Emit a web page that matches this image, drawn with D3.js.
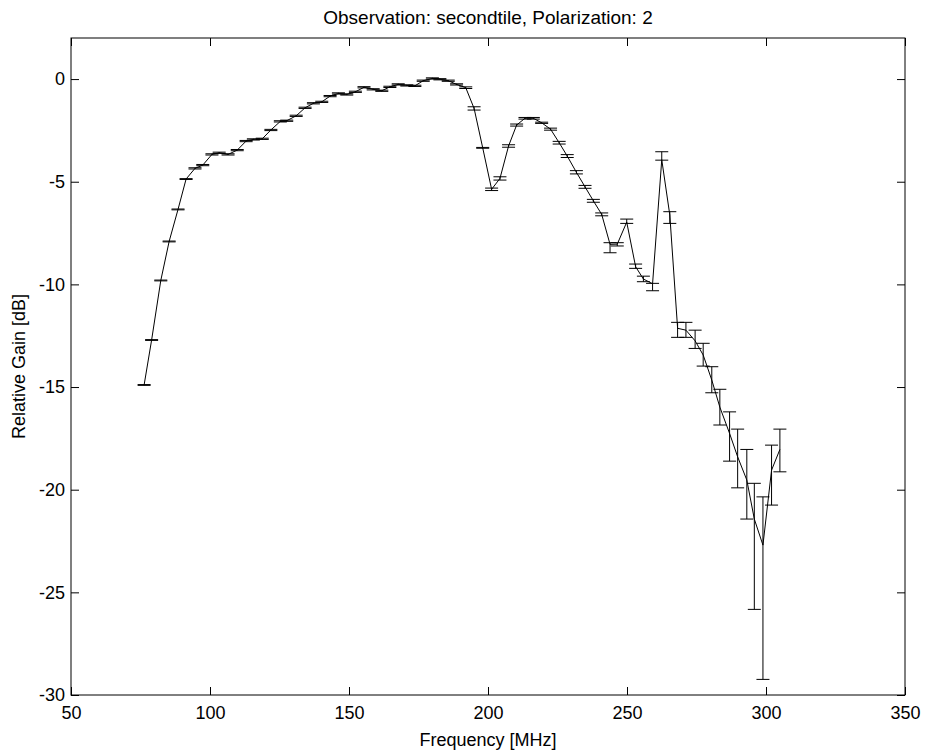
<!DOCTYPE html>
<html>
<head>
<meta charset="utf-8">
<script src="https://cdn.jsdelivr.net/npm/d3@7"></script>
<style>
    body { margin: 0; background: #fff; }
    #chart text { font-family: "Liberation Sans", Arial, Helvetica, sans-serif; fill: #000; }
</style>
</head>
<body>
<div id="chart"></div>
<script>

// frequency of each channel [MHz]
const freqs = [
    76.3, 79.0, 82.3, 85.3, 88.5, 91.4, 94.6, 97.4, 100.7, 103.3,
    106.5, 109.8, 113.0, 115.6, 118.8, 121.9, 125.3, 127.6, 131.0, 134.2,
    137.2, 140.2, 143.2, 146.2, 149.2, 152.3, 155.4, 158.7, 161.8, 164.7,
    167.7, 170.8, 173.7, 176.7, 180.0, 182.7, 185.7, 188.7, 192.0, 195.0,
    198.1, 201.3, 204.3, 207.4, 210.3, 213.3, 216.3, 219.3, 222.5, 225.6,
    228.5, 231.8, 234.9, 237.9, 240.9, 243.9, 246.5, 249.9, 253.1, 255.9,
    259.2, 262.5, 265.4, 268.2, 271.2, 274.5, 277.4, 280.5, 283.4, 286.9,
    289.8, 293.1, 295.8, 298.9, 302.0, 305.0
];

// relative gain [dB]
const gains = [
    -14.90, -12.71, -9.81, -7.91, -6.35, -4.87, -4.35, -4.19, -3.67, -3.59,
    -3.67, -3.46, -3.02, -2.94, -2.91, -2.48, -2.06, -2.03, -1.79, -1.40,
    -1.18, -1.11, -0.83, -0.70, -0.75, -0.62, -0.40, -0.50, -0.57, -0.38,
    -0.26, -0.31, -0.33, -0.08, 0.03, -0.01, -0.08, -0.26, -0.42, -1.43,
    -3.35, -5.37, -4.84, -3.26, -2.24, -1.91, -1.91, -2.13, -2.44, -3.10,
    -3.75, -4.54, -5.25, -5.93, -6.59, -8.05, -8.04, -6.97, -9.14, -9.74,
    -9.97, -3.93, -6.62, -12.14, -12.23, -12.75, -13.44, -14.66, -15.98, -17.26,
    -18.40, -19.53, -21.43, -22.70, -19.05, -18.04
];

// error below the point [dB]
const errLow = [
    0.02, 0.02, 0.02, 0.02, 0.02, 0.02, 0.03, 0.03, 0.03, 0.03,
    0.03, 0.03, 0.03, 0.03, 0.03, 0.03, 0.03, 0.03, 0.03, 0.03,
    0.03, 0.03, 0.03, 0.03, 0.03, 0.03, 0.03, 0.03, 0.03, 0.03,
    0.03, 0.03, 0.03, 0.03, 0.03, 0.03, 0.03, 0.03, 0.04, 0.08,
    0.02, 0.06, 0.08, 0.06, 0.05, 0.04, 0.04, 0.03, 0.05, 0.065,
    0.07, 0.08, 0.07, 0.07, 0.07, 0.41, 0.09, 0.06, 0.08, 0.13,
    0.34, 0.02, 0.41, 0.44, 0.35, 0.37, 0.54, 0.62, 0.87, 1.35,
    1.51, 1.90, 4.40, 6.54, 1.70, 1.09
];

// error above the point [dB]
const errHigh = [
    0.02, 0.02, 0.02, 0.02, 0.02, 0.02, 0.03, 0.03, 0.03, 0.03,
    0.03, 0.03, 0.03, 0.03, 0.03, 0.03, 0.03, 0.03, 0.03, 0.03,
    0.03, 0.03, 0.03, 0.03, 0.03, 0.03, 0.03, 0.03, 0.03, 0.03,
    0.03, 0.03, 0.03, 0.03, 0.03, 0.03, 0.03, 0.03, 0.04, 0.08,
    0.02, 0.06, 0.08, 0.06, 0.05, 0.04, 0.04, 0.03, 0.05, 0.065,
    0.07, 0.08, 0.07, 0.07, 0.07, 0.08, 0.07, 0.15, 0.13, 0.14,
    0.02, 0.39, 0.16, 0.29, 0.38, 0.52, 0.57, 0.65, 0.87, 1.05,
    1.35, 1.49, 1.74, 2.35, 1.22, 0.99
];

const xTicks = [50, 100, 150, 200, 250, 300, 350];
const yTicks = [-30, -25, -20, -15, -10, -5, 0];

const titleText = "Observation: secondtile, Polarization: 2";
const xLabel = "Frequency [MHz]";
const yLabel = "Relative Gain [dB]";

let margin = {top: 38, right: 22, bottom: 59, left: 71};
let width = 927 - margin.left - margin.right;
let height = 754 - margin.top - margin.bottom;

let svg = d3.select("#chart").append("svg")
    .attr("width", 927)
    .attr("height", 754)
    .append("g")
    .attr("transform", "translate(" + margin.left + "," + margin.top + ")");

let x = d3.scaleLinear().domain([50, 350]).range([0, width]);
let y = d3.scaleLinear().domain([-30, 2]).range([height, 0]);

let data = freqs.map((f, i) => ({
    f: f,
    g: gains[i],
    lo: gains[i] - errLow[i],
    hi: gains[i] + errHigh[i]
}));

// axes, ticks pointing inwards on all four sides, plain hyphen for minus
let tickLen = 8;
let fmt = d => String(d);

svg.append("g")
    .attr("class", "axis x-bottom")
    .attr("transform", `translate(0, ${height})`)
    .call(d3.axisBottom(x).tickValues(xTicks).tickFormat(fmt).tickSizeInner(-tickLen).tickSizeOuter(0).tickPadding(11));

svg.append("g")
    .attr("class", "axis x-top")
    .call(d3.axisTop(x).tickValues(xTicks).tickSizeInner(-tickLen).tickSizeOuter(0).tickFormat(""));

svg.append("g")
    .attr("class", "axis y-left")
    .call(d3.axisLeft(y).tickValues(yTicks).tickFormat(fmt).tickSizeInner(-tickLen).tickSizeOuter(0).tickPadding(6));

svg.append("g")
    .attr("class", "axis y-right")
    .attr("transform", `translate(${width}, 0)`)
    .call(d3.axisRight(y).tickValues(yTicks).tickSizeInner(-tickLen).tickSizeOuter(0).tickFormat(""));

svg.selectAll(".axis .domain").remove();
svg.selectAll(".axis line").attr("stroke", "#000");
svg.selectAll(".axis text").style("font-size", "18px");

svg.append("rect")
    .attr("width", width)
    .attr("height", height)
    .attr("fill", "none")
    .attr("stroke", "#000")
    .attr("stroke-width", 1);

// error bars
let capW = 6.5;
let bars = svg.selectAll(".errbar")
    .data(data)
    .enter()
    .append("g")
    .attr("class", "errbar")
    .attr("stroke", "#000")
    .attr("stroke-width", 1);

bars.append("line")
    .attr("x1", d => x(d.f)).attr("x2", d => x(d.f))
    .attr("y1", d => y(d.hi)).attr("y2", d => y(d.lo));

bars.append("line")
    .attr("x1", d => x(d.f) - capW).attr("x2", d => x(d.f) + capW)
    .attr("y1", d => y(d.hi)).attr("y2", d => y(d.hi));

bars.append("line")
    .attr("x1", d => x(d.f) - capW).attr("x2", d => x(d.f) + capW)
    .attr("y1", d => y(d.lo)).attr("y2", d => y(d.lo));

// data line
let line = d3.line()
    .x(d => x(d.f))
    .y(d => y(d.g));

svg.append("path")
    .datum(data)
    .attr("d", line)
    .attr("fill", "none")
    .attr("stroke", "#000")
    .attr("stroke-width", 1);

// labels
svg.append("text")
    .attr("x", width / 2)
    .attr("y", -14)
    .attr("text-anchor", "middle")
    .style("font-size", "19px")
    .text(titleText);

svg.append("text")
    .attr("x", width / 2)
    .attr("y", height + 51)
    .attr("text-anchor", "middle")
    .style("font-size", "18px")
    .text(xLabel);

svg.append("text")
    .attr("transform", `translate(${-46}, ${height / 2}) rotate(-90)`)
    .attr("text-anchor", "middle")
    .style("font-size", "18px")
    .text(yLabel);

</script>
</body>
</html>
